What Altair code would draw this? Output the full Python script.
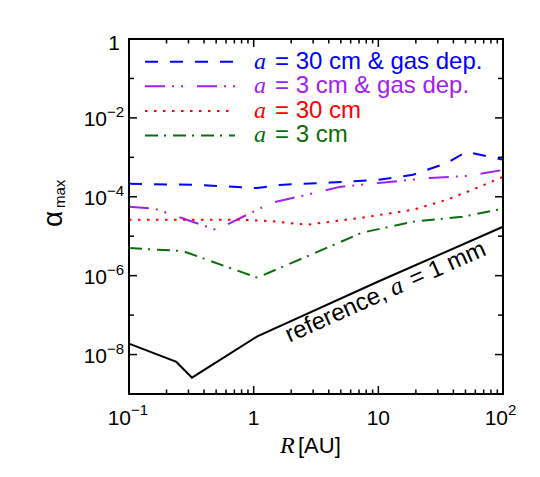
import altair as alt
import pandas as pd

W, H = 374, 355

# ---- data (R in AU, alpha_max) ----
R_blue = [0.1, 0.35, 1.07, 1.6, 4.1, 10, 19, 35, 51, 100]
A_blue = [2.14e-4, 2.0e-4, 1.66e-4, 2.0e-4, 2.29e-4, 2.69e-4, 3.63e-4, 7.08e-4, 1.38e-3, 8.7e-4]

R_purple = [0.1, 0.16, 0.5, 1.4, 2.65, 4.9, 10, 26, 53, 100]
A_purple = [5.6e-5, 5.0e-5, 1.45e-5, 7.1e-5, 1.12e-4, 1.78e-4, 2.24e-4, 3.0e-4, 3.4e-4, 4.8e-4]

R_red = [0.1, 0.77, 1.4, 2.65, 7.4, 19, 35, 57, 100]
A_red = [2.63e-5, 2.63e-5, 2.4e-5, 1.95e-5, 2.95e-5, 4.7e-5, 8.3e-5, 1.51e-4, 3.2e-4]

R_green = [0.1, 0.27, 1.07, 7.4, 19, 47, 100]
A_green = [5.0e-6, 4.2e-6, 8.9e-7, 1.23e-5, 2.34e-5, 3.1e-5, 5.0e-5]

R_black = [0.1, 0.24, 0.32, 1.07, 10, 100]
A_black = [1.9e-8, 6.5e-9, 2.6e-9, 2.9e-8, 7.1e-7, 1.74e-5]

legend_texts = ["= 30 cm & gas dep.", "= 3 cm & gas dep.", "= 30 cm", "= 3 cm"]

x_major = [0.1, 1, 10, 100]
x_minor = [0.2, 0.3, 0.4, 0.5, 0.6, 0.7, 0.8, 0.9,
           2, 3, 4, 5, 6, 7, 8, 9,
           20, 30, 40, 50, 60, 70, 80, 90]
y_major = [1, 1e-2, 1e-4, 1e-6, 1e-8]
y_minor = [1e-1, 1e-3, 1e-5, 1e-7]
y_exp = ["−2", "−4", "−6", "−8"]

SANS = "Liberation Sans"
SERIF = "Liberation Serif"

xs = alt.Scale(type="log", domain=[0.1, 100], nice=False)
ys = alt.Scale(type="log", domain=[1e-9, 1], nice=False)

series = [
    (R_blue, A_blue, "#0000ff", [13, 12]),
    (R_purple, A_purple, "#a020f0", [20, 7, 2, 7, 2, 14]),
    (R_red, A_red, "#ff0000", [2.5, 6.5]),
    (R_green, A_green, "#0a6e0a", [13, 6, 2, 7]),
    (R_black, A_black, "#000000", None),
]

layers = []
one = pd.DataFrame({"k": [0]})

for R, A, col, dash in series:
    df = pd.DataFrame({"R": R, "A": A})
    kw = dict(color=col, strokeWidth=2)
    if dash:
        kw["strokeDash"] = dash
    layers.append(
        alt.Chart(df).mark_line(**kw).encode(
            x=alt.X("R:Q", scale=xs, axis=None),
            y=alt.Y("A:Q", scale=ys, axis=None),
        )
    )

# legend
for i, (R, A, col, dash) in enumerate(series[:4]):
    ly = 22.7 + i * 24.6
    kw = dict(color=col, strokeWidth=2)
    if dash:
        kw["strokeDash"] = dash
    layers.append(alt.Chart(one).mark_rule(**kw).encode(
        x=alt.value(16), x2=alt.value(106), y=alt.value(ly)))
    layers.append(alt.Chart(one).mark_text(
        font=SERIF, fontStyle="italic", fontSize=24, color=col, align="left", baseline="alphabetic"
    ).encode(x=alt.value(125), y=alt.value(ly + 6.8), text=alt.value("a")))
    layers.append(alt.Chart(one).mark_text(
        font=SANS, fontSize=24, color=col, align="left", baseline="alphabetic"
    ).encode(x=alt.value(146), y=alt.value(ly + 6.8), text=alt.value(legend_texts[i])))

# frame
layers.append(alt.Chart(one).mark_rect(fillOpacity=0, stroke="black", strokeWidth=2).encode(
    x=alt.value(0), x2=alt.value(W), y=alt.value(0), y2=alt.value(H)))

# ticks (inward, mirrored)
dfxM = pd.DataFrame({"v": x_major})
dfxm = pd.DataFrame({"v": x_minor})
dfyM = pd.DataFrame({"v": y_major})
dfym = pd.DataFrame({"v": y_minor})
for d, ln in ((dfxM, 8), (dfxm, 4.5)):
    layers.append(alt.Chart(d).mark_rule(color="black", strokeWidth=1.5).encode(
        x=alt.X("v:Q", scale=xs, axis=None), y=alt.value(H), y2=alt.value(H - ln)))
    layers.append(alt.Chart(d).mark_rule(color="black", strokeWidth=1.5).encode(
        x=alt.X("v:Q", scale=xs, axis=None), y=alt.value(0), y2=alt.value(ln)))
for d, ln in ((dfyM, 8), (dfym, 5)):
    layers.append(alt.Chart(d).mark_rule(color="black", strokeWidth=1.5).encode(
        y=alt.Y("v:Q", scale=ys, axis=None), x=alt.value(0), x2=alt.value(ln)))
    layers.append(alt.Chart(d).mark_rule(color="black", strokeWidth=1.5).encode(
        y=alt.Y("v:Q", scale=ys, axis=None), x=alt.value(W), x2=alt.value(W - ln)))

# y tick labels
dfy_lab = pd.DataFrame({"v": y_major[1:], "e": y_exp})
layers.append(alt.Chart(dfy_lab).mark_text(
    font=SANS, fontSize=21, align="right", baseline="alphabetic", dy=8
).encode(y=alt.Y("v:Q", scale=ys, axis=None), x=alt.value(-22), text=alt.value("10")))
layers.append(alt.Chart(dfy_lab).mark_text(
    font=SANS, fontSize=15, align="right", baseline="alphabetic", dy=-1
).encode(y=alt.Y("v:Q", scale=ys, axis=None), x=alt.value(-5), text="e:N"))
layers.append(alt.Chart(pd.DataFrame({"v": [1]})).mark_text(
    font=SANS, fontSize=21, align="right", baseline="alphabetic", dy=11
).encode(y=alt.Y("v:Q", scale=ys, axis=None), x=alt.value(-9), text=alt.value("1")))

# x tick labels
xl_base = [("10", 0.1, "right", 2), ("1", 1, "center", 0), ("10", 10, "center", 0), ("10", 100, "right", 5)]
for txt, v, al, dx in xl_base:
    layers.append(alt.Chart(pd.DataFrame({"v": [v]})).mark_text(
        font=SANS, fontSize=21, align=al, baseline="alphabetic", dx=dx
    ).encode(x=alt.X("v:Q", scale=xs, axis=None), y=alt.value(H + 31), text=alt.value(txt)))
for txt, v, dx in (("−1", 0.1, 2), ("2", 100, 5)):
    layers.append(alt.Chart(pd.DataFrame({"v": [v]})).mark_text(
        font=SANS, fontSize=15, align="left", baseline="alphabetic", dx=dx
    ).encode(x=alt.X("v:Q", scale=xs, axis=None), y=alt.value(H + 21), text=alt.value(txt)))

# axis titles
layers.append(alt.Chart(one).mark_text(font=SERIF, fontStyle="italic", fontSize=24, align="left",
                                       baseline="alphabetic").encode(
    x=alt.value(151), y=alt.value(414), text=alt.value("R")))
layers.append(alt.Chart(one).mark_text(font=SANS, fontSize=22, align="left", baseline="alphabetic").encode(
    x=alt.value(169), y=alt.value(414), text=alt.value("[AU]")))
layers.append(alt.Chart(one).mark_text(font=SANS, fontSize=28, align="left", baseline="alphabetic",
                                       angle=270).encode(
    x=alt.value(-67), y=alt.value(188), text=alt.value("α")))
layers.append(alt.Chart(one).mark_text(font=SANS, fontSize=15, align="left", baseline="alphabetic",
                                       angle=270).encode(
    x=alt.value(-64), y=alt.value(169), text=alt.value("max")))

# annotation along the reference curve
ann = pd.DataFrame({"R": [1.94], "A": [2.0e-8]})
for txt, dx, fnt, sty in (("reference,", 0, SANS, "normal"), ("a", 114, SERIF, "italic"),
                          ("= 1 mm", 136, SANS, "normal")):
    layers.append(alt.Chart(ann).mark_text(
        font=fnt, fontStyle=sty, fontSize=(25 if sty == "italic" else 24), align="left",
        baseline="alphabetic", angle=336, dx=dx
    ).encode(x=alt.X("R:Q", scale=xs, axis=None), y=alt.Y("A:Q", scale=ys, axis=None),
             text=alt.value(txt)))

chart = alt.layer(*layers).properties(
    width=W, height=H,
    padding={"left": 121, "top": 31, "right": 20, "bottom": 70},
    autosize=alt.AutoSizeParams(type="none"),
).configure_view(stroke=None)

chart.save("out.html", embed_options={"renderer": "svg", "actions": False})
